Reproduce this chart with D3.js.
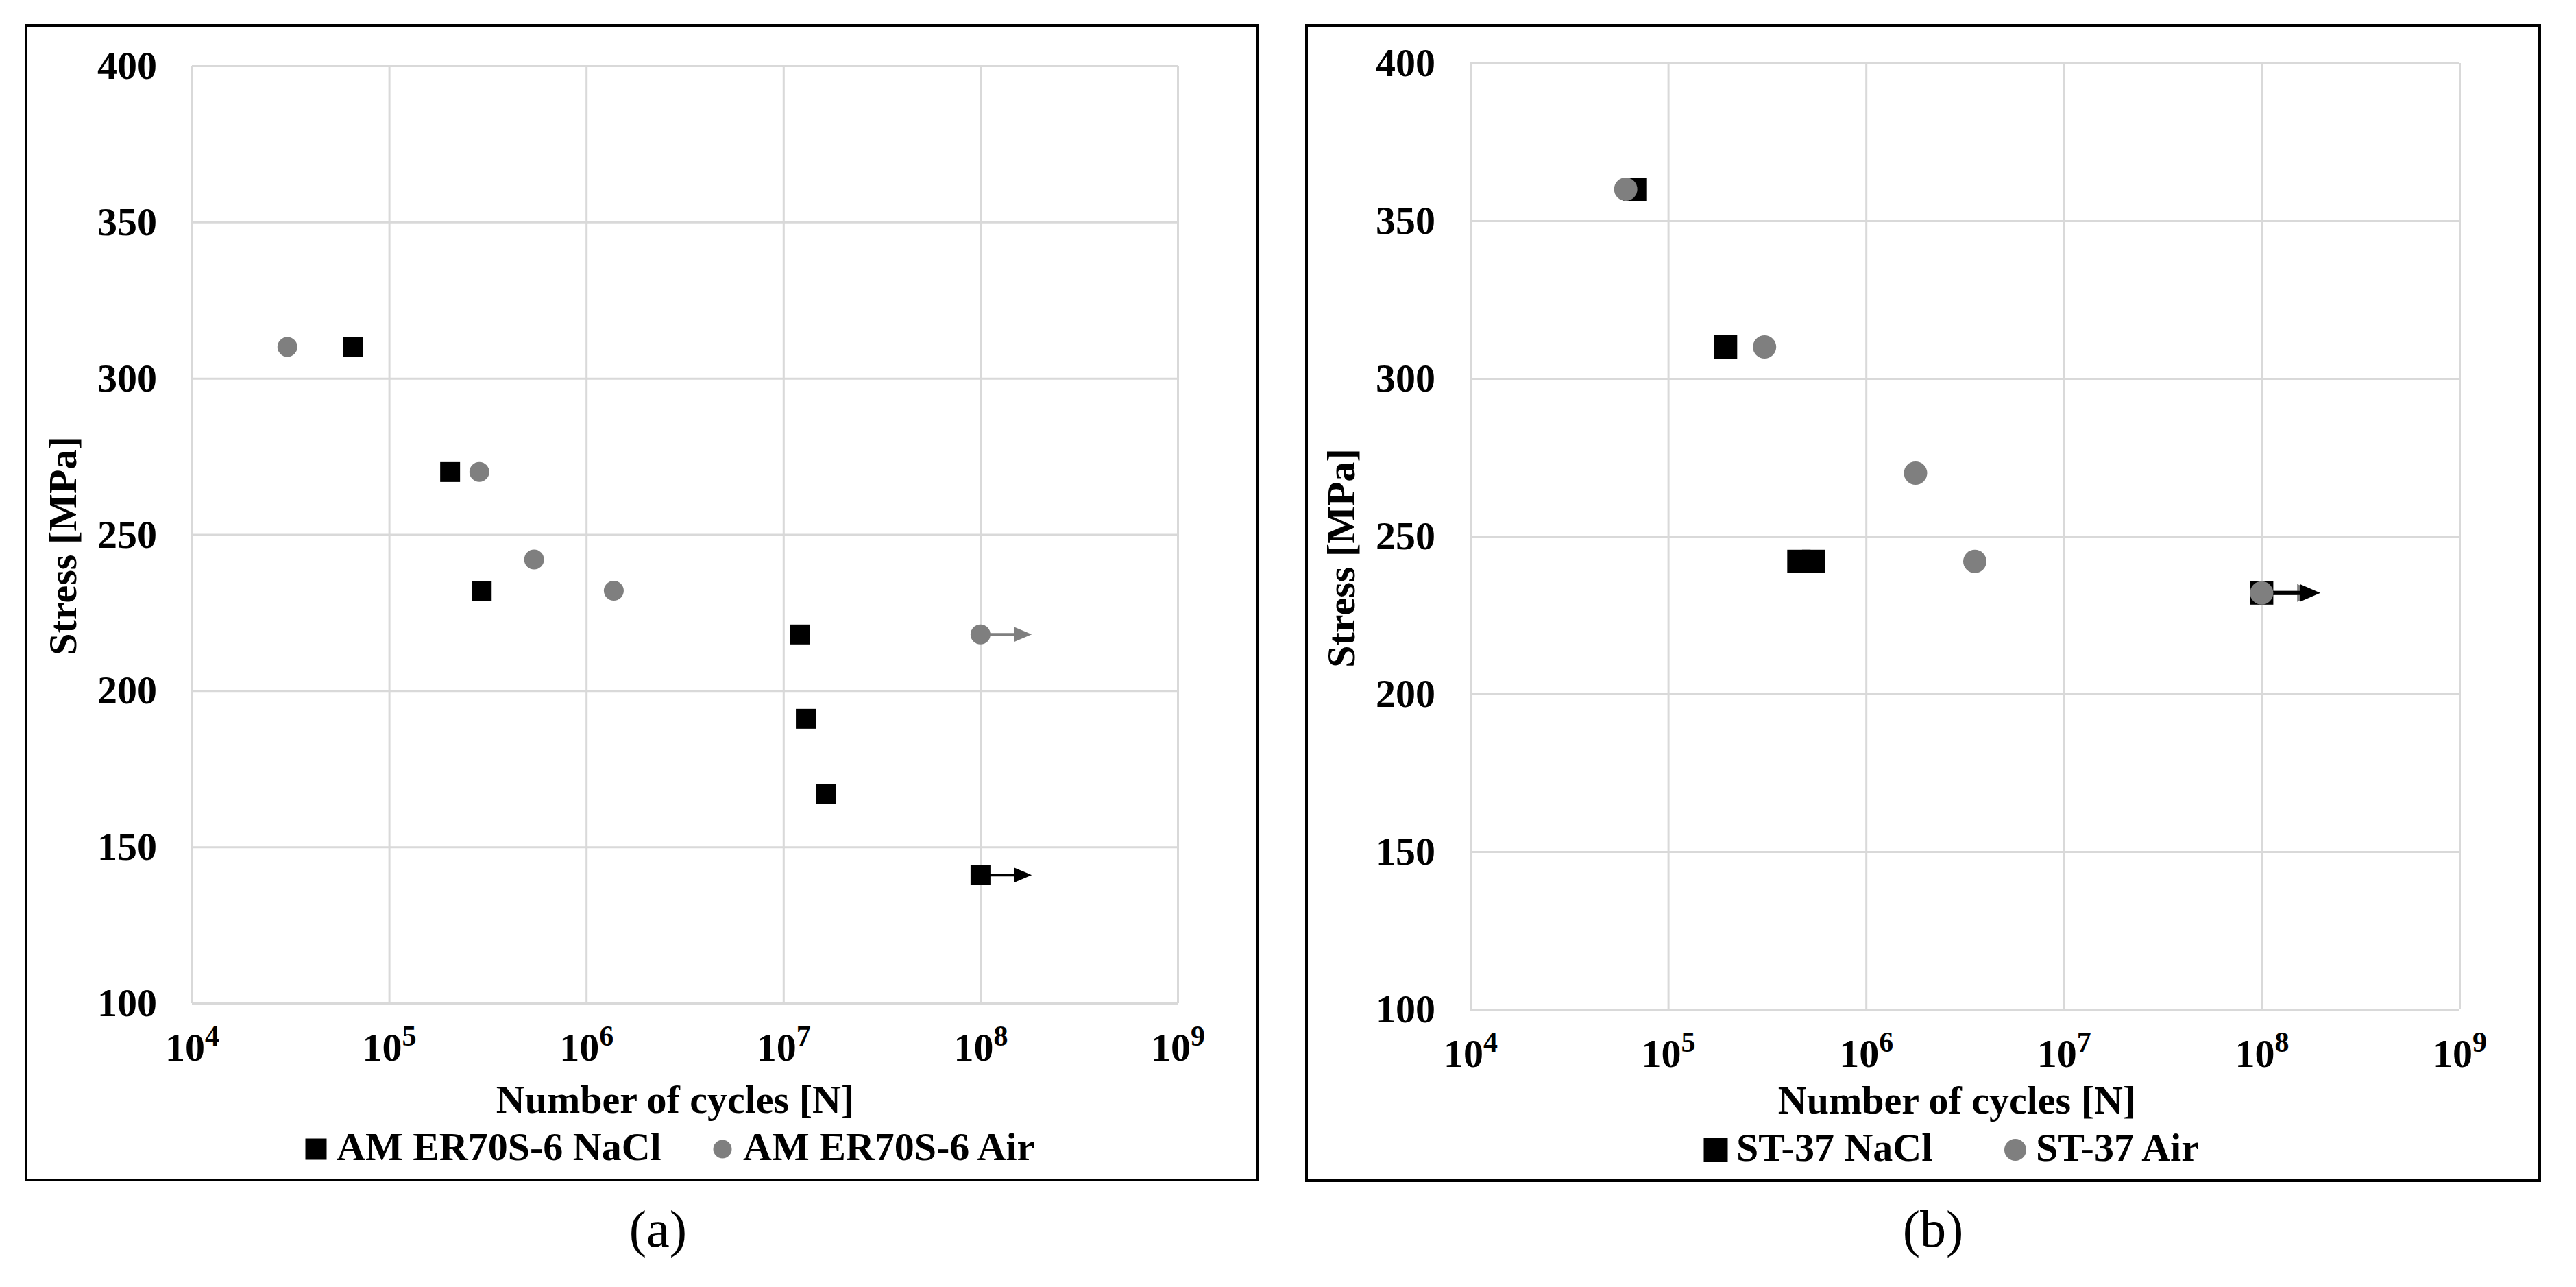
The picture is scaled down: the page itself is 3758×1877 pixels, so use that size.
<!DOCTYPE html>
<html>
<head>
	<meta charset="utf-8">
	<title></title>
	<script src="https://cdn.jsdelivr.net/npm/d3@7"></script>
	<style>
		body { margin: 0; background: #fff; }
		text { font-family: "Liberation Serif", "Times New Roman", serif; font-weight: bold; fill: #000; }
	</style>
</head>
<body>
	<svg id="chart" width="3758" height="1877"></svg>

	<script type="text/javascript">
		var cycleTicks = [1e4, 1e5, 1e6, 1e7, 1e8, 1e9];
		var stressTicks = [100, 150, 200, 250, 300, 350, 400];

		// (a) AM ER70S-6
		var amNaClCycles = [65600, 204000, 295000, 1.21e7, 1.30e7, 1.64e7, 1e8];
		var amNaClStress = [310, 270, 232, 218, 191, 167, 141];
		var amAirCycles = [30500, 287000, 544000, 1.38e6, 1e8];
		var amAirStress = [310, 270, 242, 232, 218];
		// run-outs: [cycles at stop, arrow tip, stress]
		var amNaClRunout = [1e8, 1.82e8, 141];
		var amAirRunout = [1e8, 1.82e8, 218];

		// (b) ST-37
		var stNaClCycles = [67700, 195000, 458000, 544000, 1e8];
		var stNaClStress = [360, 310, 242, 242, 232];
		var stAirCycles = [61000, 307000, 1.78e6, 3.55e6, 1e8];
		var stAirStress = [360, 310, 270, 242, 232];
		var stNaClRunout = [1e8, 1.98e8, 232];
		var stAirRunout = [1e8, 1.92e8, 232];

		var svg = d3.select("#chart");
		svg.append("rect").attr("width", 3758).attr("height", 1877).attr("fill", "#fff");

		var panels = [
			{
				box: [38, 37, 1835, 1721], plot: [280, 96, 1718, 1463],
				size: 29, arrowW: 4, head: [26, 11],
				tag: "(a)", tagX: 960, yTitle: [91, 796], xTitleX: 985,
				legendNames: ["AM ER70S-6 NaCl", "AM ER70S-6 Air"], legendX: [461, 1054], legendSize: [31, 27],
				nacl: [amNaClCycles, amNaClStress], air: [amAirCycles, amAirStress],
				naclRun: amNaClRunout, airRun: amAirRunout
			},
			{
				box: [1906, 37, 3705, 1722], plot: [2145, 92, 3588, 1472],
				size: 34, arrowW: 6, head: [30, 13],
				tag: "(b)", tagX: 2820, yTitle: [1956, 814], xTitleX: 2855,
				legendNames: ["ST-37 NaCl", "ST-37 Air"], legendX: [2503, 2940], legendSize: [35, 32],
				nacl: [stNaClCycles, stNaClStress], air: [stAirCycles, stAirStress],
				naclRun: stNaClRunout, airRun: stAirRunout
			}
		];

		function zip(cols) {
			return cols[0].map(function(c, i) { return {cycles: c, stress: cols[1][i]}; });
		}

		function drawPanel(p) {
			var g = svg.append("g");
			var w = p.plot[2] - p.plot[0];
			var h = p.plot[3] - p.plot[1];
			var x = d3.scaleLog().domain([1e4, 1e9]).range([p.plot[0], p.plot[2]]);
			var y = d3.scaleLinear().domain([100, 400]).range([p.plot[3], p.plot[1]]);

			g.append("rect")
				.attr("x", p.box[0]).attr("y", p.box[1])
				.attr("width", p.box[2] - p.box[0]).attr("height", p.box[3] - p.box[1])
				.attr("fill", "none").attr("stroke", "#000").attr("stroke-width", 4);

			var gy = g.append("g")
				.attr("transform", "translate(" + p.plot[0] + ",0)")
				.call(d3.axisLeft(y).tickValues(stressTicks).tickSize(-w).tickPadding(51));
			gy.attr("font-size", 58);
			gy.select(".domain").remove();
			gy.selectAll(".tick line").attr("stroke", "#d9d9d9").attr("stroke-width", 3);

			var gx = g.append("g")
				.attr("transform", "translate(0," + p.plot[3] + ")")
				.call(d3.axisBottom(x).tickValues(cycleTicks).tickSize(-h));
			gx.attr("font-size", 58);
			gx.select(".domain").remove();
			gx.selectAll(".tick line").attr("stroke", "#d9d9d9").attr("stroke-width", 3);
			gx.selectAll(".tick text").each(function(d) {
				var t = d3.select(this).text("").attr("y", 84).attr("dy", null);
				t.append("tspan").text("10");
				t.append("tspan").attr("font-size", 42).attr("dy", -22).text(Math.round(Math.log10(d)));
			});

			// run-out arrows
			[[p.airRun, "#7f7f7f"], [p.naclRun, "#000"]].forEach(function(r) {
				var x0 = x(r[0][0]), x1 = x(r[0][1]), yy = y(r[0][2]);
				g.append("line")
					.attr("x1", x0).attr("x2", x1 - p.head[0] + 2)
					.attr("y1", yy).attr("y2", yy)
					.attr("stroke", r[1]).attr("stroke-width", p.arrowW);
				g.append("path")
					.attr("d", "M" + x1 + "," + yy + "L" + (x1 - p.head[0]) + "," + (yy - p.head[1]) +
						"L" + (x1 - p.head[0]) + "," + (yy + p.head[1]) + "Z")
					.attr("fill", r[1]);
			});

			g.selectAll("rect.nacl")
				.data(zip(p.nacl))
				.enter()
				.append("rect")
				.attr("class", "nacl")
				.attr("x", function(d) { return x(d.cycles) - p.size / 2; })
				.attr("y", function(d) { return y(d.stress) - p.size / 2; })
				.attr("width", p.size).attr("height", p.size)
				.attr("fill", "#000");

			g.selectAll("circle.air")
				.data(zip(p.air))
				.enter()
				.append("circle")
				.attr("class", "air")
				.attr("cx", function(d) { return x(d.cycles); })
				.attr("cy", function(d) { return y(d.stress); })
				.attr("r", p.size / 2)
				.attr("fill", "#7f7f7f");

			g.append("text")
				.attr("transform", "translate(" + p.yTitle[0] + "," + p.yTitle[1] + ") rotate(-90)")
				.attr("text-anchor", "middle").attr("dy", "0.35em")
				.attr("font-size", 58)
				.text("Stress [MPa]");

			g.append("text")
				.attr("x", p.xTitleX).attr("y", p.box[3] - 98)
				.attr("text-anchor", "middle").attr("font-size", 58)
				.text("Number of cycles [N]");

			// legend
			var ly = p.box[3] - 45;
			var s0 = p.legendSize[0], s1 = p.legendSize[1];
			g.append("rect")
				.attr("x", p.legendX[0] - s0 / 2).attr("y", ly - s0 / 2)
				.attr("width", s0).attr("height", s0).attr("fill", "#000");
			g.append("circle")
				.attr("cx", p.legendX[1]).attr("cy", ly).attr("r", s1 / 2).attr("fill", "#7f7f7f");
			p.legendNames.forEach(function(name, i) {
				g.append("text")
					.attr("x", p.legendX[i] + 30).attr("y", p.box[3] - 29)
					.attr("font-size", 58)
					.text(name);
			});

			g.append("text")
				.attr("x", p.tagX).attr("y", 1818)
				.attr("text-anchor", "middle")
				.attr("font-size", 76)
				.style("font-weight", "normal")
				.text(p.tag);
		}

		panels.forEach(drawPanel);
	</script>
</body>
</html>
